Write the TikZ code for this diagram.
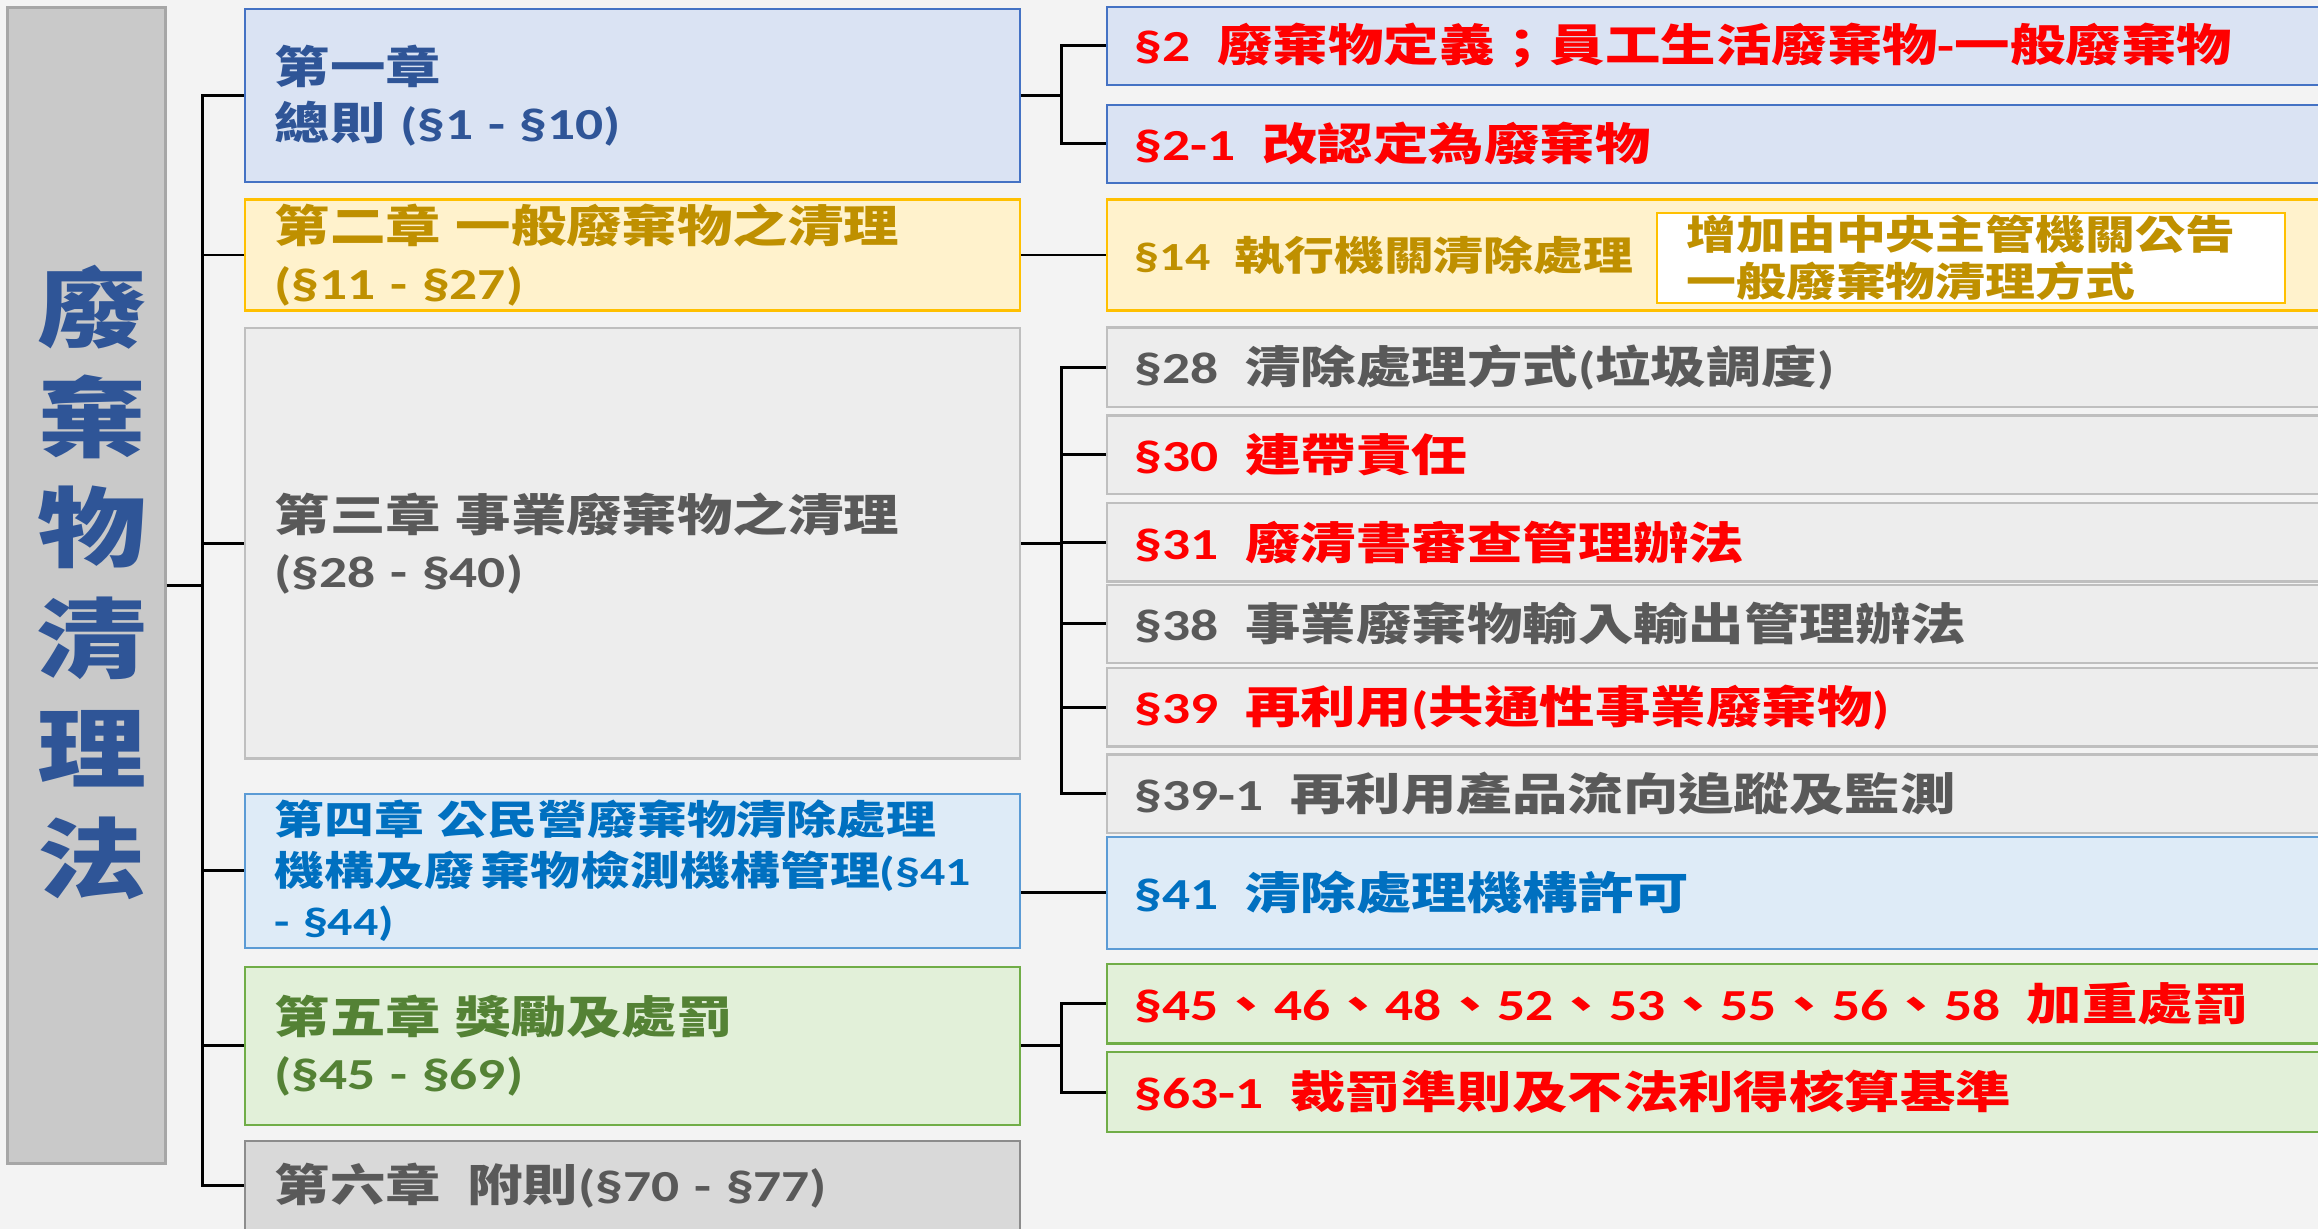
\documentclass[tikz,border=0pt]{standalone}
\usepackage{fontspec}
\setmainfont{Noto Sans CJK TC}[FakeStretch=1.25]
\newfontfamily\latfont{Carlito}[FakeStretch=1.25]
\usetikzlibrary{positioning}

\definecolor{bgcol}{HTML}{F3F3F3}
\definecolor{barfill}{HTML}{C9C9C9}
\definecolor{barline}{HTML}{A6A6A6}
\definecolor{titleblue}{HTML}{2F5597}
\definecolor{bluefill}{HTML}{DAE3F3}
\definecolor{blueline}{HTML}{4472C4}
\definecolor{yelfill}{HTML}{FFF2CC}
\definecolor{yelline}{HTML}{FFC000}
\definecolor{yeltext}{HTML}{BF9000}
\definecolor{grayfill}{HTML}{EDEDED}
\definecolor{grayline}{HTML}{BFBFBF}
\definecolor{graytext}{HTML}{595959}
\definecolor{skyfill}{HTML}{DEEBF7}
\definecolor{skyline}{HTML}{5B9BD5}
\definecolor{skytext}{HTML}{0070C0}
\definecolor{grnfill}{HTML}{E2F0D9}
\definecolor{grnline}{HTML}{70AD47}
\definecolor{grntext}{HTML}{548235}
\definecolor{darkfill}{HTML}{D9D9D9}
\definecolor{darkline}{HTML}{8C8C8C}
\definecolor{lawred}{HTML}{FF0000}

\newcommand{\gap}{\hspace{0.6em}}
\newcommand{\nm}[1]{{\latfont #1}}

\begin{document}
\begin{tikzpicture}[x=1pt, y=-1pt,
		chap/.style={draw, line width=1.5pt, anchor=west, text width=484pt, inner xsep=20pt, inner ysep=0pt, align=left, font=\fontsize{30}{38}\selectfont\bfseries},
		sect/.style={draw, line width=1.5pt, anchor=west, text width=800pt, inner xsep=19pt, inner ysep=0pt, align=left, font=\fontsize{30}{36}\selectfont\bfseries},
		bluebox/.style={fill=bluefill, draw=blueline},
		yelbox/.style={fill=yelfill, draw=yelline, text=yeltext},
		graybox/.style={fill=grayfill, draw=grayline, text=graytext},
		skybox/.style={fill=skyfill, draw=skyline, text=skytext},
		grnbox/.style={fill=grnfill, draw=grnline},
		link/.style={line width=2pt, black}
	]
		\useasboundingbox (0,0) rectangle (1568,831);
		\fill[bgcol] (0,0) rectangle (1568,831);

		% title bar
		\node[fill=barfill, draw=barline, line width=1.5pt, minimum width=107pt, minimum height=782pt, inner sep=0pt] (law) at (58.5,396) {};
		\node[align=center, text=titleblue, font=\fontsize{59}{74.6}\selectfont\bfseries] (lawtxt) at (62,394) {廢\\棄\\物\\清\\理\\法};

		% chapters
		\node[chap, bluebox, text=titleblue, minimum height=117pt] (ch1) at (165,64.5) {第一章\\總則 \nm{(§1 - §10)}};
		\node[chap, yelbox, minimum height=75pt] (ch2) at (165,172.5) {第二章 一般廢棄物之清理\\\nm{(§11 - §27)}};
		\node[chap, graybox, minimum height=291pt] (ch3) at (165,367.5) {第三章 事業廢棄物之清理\\\nm{(§28 - §40)}};
		\node[chap, skybox, minimum height=104pt, font=\fontsize{27}{34}\selectfont\bfseries] (ch4) at (165,589) {第四章 公民營廢棄物清除處理\\機構及廢\,棄物檢測機構管理\nm{(§41}\\\nm{- §44)}};
		\node[chap, grnbox, text=grntext, minimum height=107pt] (ch5) at (165,707.5) {第五章 獎勵及處罰\\\nm{(§45 - §69)}};
		\node[chap, fill=darkfill, draw=darkline, text=graytext, minimum height=60pt] (ch6) at (165,802) {第六章\gap 附則\nm{(§70 - §77)}};

		% sections
		\node[sect, bluebox, text=lawred, minimum height=53pt] (s2) at (748,31) {\nm{§2}\gap 廢棄物定義；員工生活廢棄物\nm{-}一般廢棄物};
		\node[sect, bluebox, text=lawred, minimum height=53pt] (s21) at (748,97.3) {\nm{§2-1}\gap 改認定為廢棄物};
		\node[sect, yelbox, minimum height=75pt, font=\fontsize{27}{34}\selectfont\bfseries] (s14) at (748,172.5) {\nm{§14}\gap 執行機關清除處理};
		\node[draw=yelline, fill=white, line width=1.5pt, anchor=west, text width=385pt, inner xsep=20pt, inner ysep=0pt,
			minimum height=61pt, align=left, text=yeltext, font=\fontsize{27}{32}\selectfont\bfseries] (s14n) at (1120,174.5) {增加由中央主管機關公告\\一般廢棄物清理方式};
		\node[sect, graybox, minimum height=54pt] (s28) at (748,248.5) {\nm{§28}\gap 清除處理方式\nm{(}垃圾調度\nm{)}};
		\node[sect, graybox, text=lawred, minimum height=53pt] (s30) at (748,307.5) {\nm{§30}\gap 連帶責任};
		\node[sect, graybox, text=lawred, minimum height=53pt] (s31) at (748,366.8) {\nm{§31}\gap 廢清書審查管理辦法};
		\node[sect, graybox, minimum height=53pt] (s38) at (748,422) {\nm{§38}\gap 事業廢棄物輸入輸出管理辦法};
		\node[sect, graybox, text=lawred, minimum height=53pt] (s39) at (748,478.4) {\nm{§39}\gap 再利用\nm{(}共通性事業廢棄物\nm{)}};
		\node[sect, graybox, minimum height=53pt] (s391) at (748,536.8) {\nm{§39-1}\gap 再利用產品流向追蹤及監測};
		\node[sect, skybox, minimum height=76pt] (s41) at (748,604) {\nm{§41}\gap 清除處理機構許可};
		\node[sect, grnbox, text=lawred, minimum height=54pt] (s45) at (748,678.9) {\nm{§45}、\nm{46}、\nm{48}、\nm{52}、\nm{53}、\nm{55}、\nm{56}、\nm{58}\gap 加重處罰};
		\node[sect, grnbox, text=lawred, minimum height=54pt] (s631) at (748,738.8) {\nm{§63-1}\gap 裁罰準則及不法利得核算基準};

		% left tree
		\coordinate (tk) at (137,0);
		\draw[link] (law.east) -- (law.east -| tk);
		\draw[link] (ch1.west) -- (ch1.west -| tk) -- (ch6.west -| tk) -- (ch6.west);
		\draw[link] (ch2.west) -- (ch2.west -| tk);
		\draw[link] (ch3.west) -- (ch3.west -| tk);
		\draw[link] (ch4.west) -- (ch4.west -| tk);
		\draw[link] (ch5.west) -- (ch5.west -| tk);

		% right tree
		\coordinate (br) at (718,0);
		\draw[link] (ch1.east) -- (ch1.east -| br);
		\draw[link] (s2.west) -- (s2.west -| br) -- (s21.west -| br) -- (s21.west);
		\draw[link] (ch2.east) -- (s14.west);
		\draw[link] (ch3.east) -- (ch3.east -| br);
		\draw[link] (s28.west) -- (s28.west -| br) -- (s391.west -| br) -- (s391.west);
		\draw[link] (s30.west) -- (s30.west -| br);
		\draw[link] (s31.west) -- (s31.west -| br);
		\draw[link] (s38.west) -- (s38.west -| br);
		\draw[link] (s39.west) -- (s39.west -| br);
		\draw[link] (s41.west) -- (s41.west -| ch4.east);
		\draw[link] (ch5.east) -- (ch5.east -| br);
		\draw[link] (s45.west) -- (s45.west -| br) -- (s631.west -| br) -- (s631.west);
	\end{tikzpicture}
\end{document}
